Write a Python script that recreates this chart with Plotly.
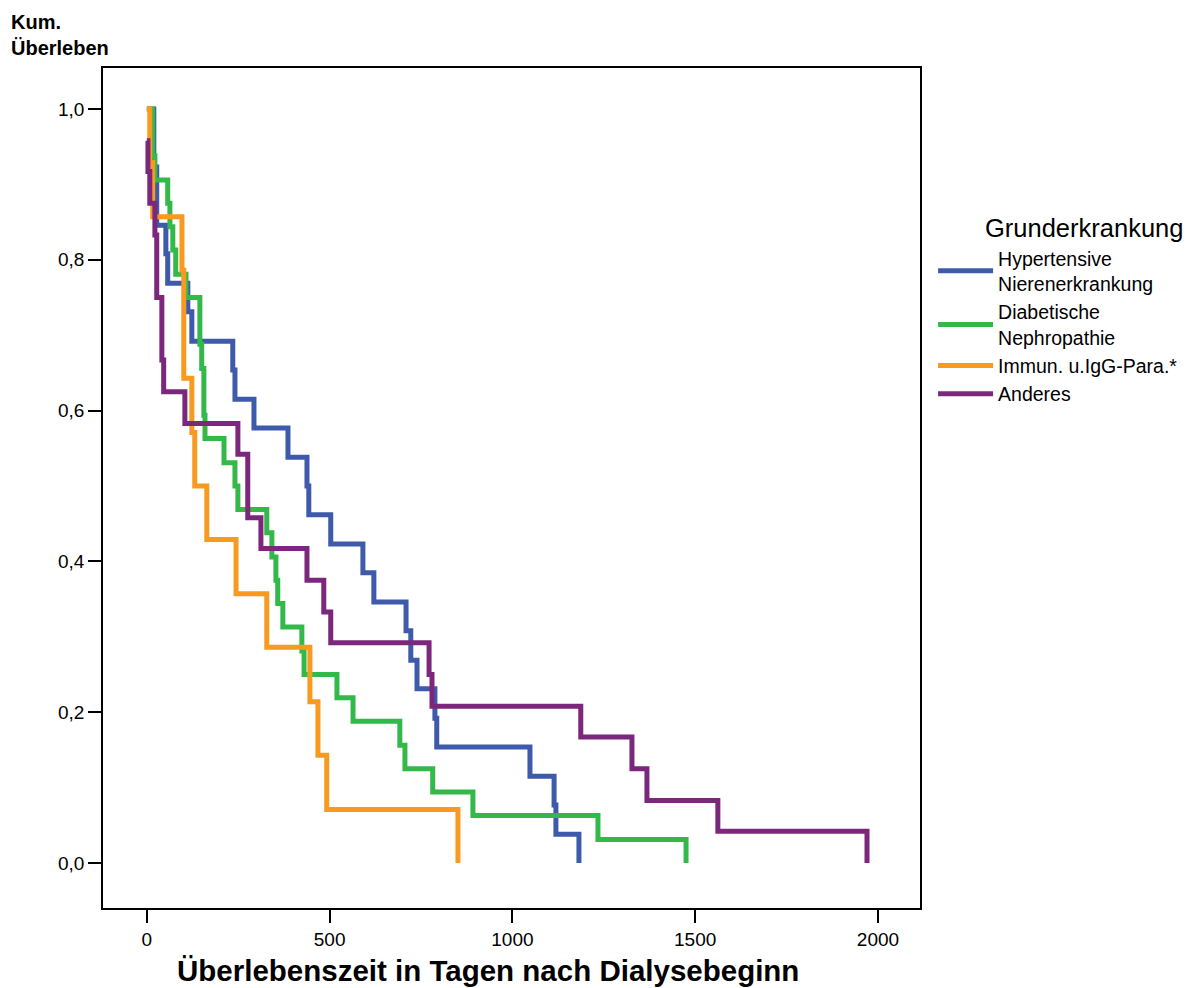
import plotly.graph_objects as go

# ---- data ----
series_names = ["Hypertensive<br>Nierenerkrankung", "Diabetische<br>Nephropathie",
                "Immun. u.IgG-Para.*", "Anderes"]
series_colors = ["#3e5bab", "#33b84a", "#f89a1f", "#7b287c"]

hyp_days = [0, 19, 27, 52, 57, 112, 123, 235, 241, 293, 386, 438, 443, 503, 591, 621,
            709, 722, 739, 788, 793, 1048, 1114, 1119, 1182]
hyp_surv = [1.0, 0.923, 0.846, 0.808, 0.769, 0.731, 0.692, 0.654, 0.615, 0.577, 0.538,
            0.500, 0.462, 0.423, 0.385, 0.346, 0.308, 0.269, 0.231, 0.192, 0.154, 0.115,
            0.077, 0.038, 0.0]

dia_days = [0, 16, 22, 57, 63, 71, 79, 107, 145, 150, 156, 159, 211, 241, 249, 328, 342,
            353, 358, 372, 424, 430, 520, 564, 692, 706, 782, 892, 1234, 1475]
dia_surv = [1.0, 0.938, 0.906, 0.875, 0.844, 0.813, 0.781, 0.750, 0.688, 0.656, 0.594,
            0.563, 0.531, 0.500, 0.469, 0.438, 0.406, 0.375, 0.344, 0.313, 0.281, 0.250,
            0.219, 0.188, 0.156, 0.125, 0.094, 0.063, 0.031, 0.0]

imm_days = [0, 8, 16, 96, 101, 123, 131, 164, 244, 328, 446, 468, 492, 851]
imm_surv = [1.0, 0.929, 0.857, 0.786, 0.643, 0.571, 0.500, 0.429, 0.357, 0.286, 0.214,
            0.143, 0.071, 0.0]

and_days = [0, 3, 8, 22, 27, 41, 46, 104, 249, 276, 312, 438, 484, 503, 772, 780, 1187,
            1327, 1368, 1562, 1970]
and_surv = [0.958, 0.917, 0.875, 0.833, 0.750, 0.667, 0.625, 0.583, 0.542, 0.458, 0.417,
            0.375, 0.333, 0.292, 0.250, 0.208, 0.167, 0.125, 0.083, 0.042, 0.0]

x_tickvals = [0, 500, 1000, 1500, 2000]
x_ticktext = ["0", "500", "1000", "1500", "2000"]
y_tickvals = [0.0, 0.2, 0.4, 0.6, 0.8, 1.0]
y_ticktext = ["0,0", "0,2", "0,4", "0,6", "0,8", "1,0"]

x_title = "Überlebenszeit in Tagen nach Dialysebeginn"
y_title = "Kum.<br>Überleben"
legend_title = "Grunderkrankung"

FONT = "Liberation Sans, Arial, Helvetica, sans-serif"

fig = go.Figure()
all_days = [hyp_days, dia_days, imm_days, and_days]
all_surv = [hyp_surv, dia_surv, imm_surv, and_surv]
for name, col, d, s in zip(series_names, series_colors, all_days, all_surv):
    fig.add_trace(go.Scatter(
        x=d, y=s, mode="lines", name=name,
        line=dict(color=col, width=5, shape="hv"),
        hoverinfo="skip",
    ))

fig.update_layout(
    width=1203, height=988,
    margin=dict(l=103, r=283, t=68, b=80),
    plot_bgcolor="white", paper_bgcolor="white",
    font=dict(family=FONT, color="black", size=19),
    showlegend=True,
    legend=dict(
        x=1.016, y=0.7965, xanchor="left", yanchor="top",
        font=dict(family=FONT, size=19.5, color="black"),
        itemwidth=55, tracegroupgap=0, bgcolor="rgba(0,0,0,0)",
    ),
    annotations=[
        dict(text=legend_title, xref="paper", yref="paper", x=1.0770, y=0.8095,
             xanchor="left", yanchor="middle", showarrow=False,
             font=dict(family=FONT, size=25.5, color="black")),
        dict(text="<b>" + y_title + "</b>", xref="paper", yref="paper", x=-0.1150, y=1.0700,
             xanchor="left", yanchor="top", showarrow=False, align="left",
             font=dict(family=FONT, size=20, color="black")),
        dict(text="<b>" + x_title + "</b>", xref="paper", yref="paper", x=0.4715, y=-0.0745,
             xanchor="center", yanchor="middle", showarrow=False,
             font=dict(family=FONT, size=29.5, color="black")),
    ],
)

fig.update_xaxes(
    range=[-120, 2115], tickvals=x_tickvals, ticktext=x_ticktext,
    showline=True, linecolor="black", linewidth=1.6, mirror=True,
    ticks="outside", ticklen=13, tickwidth=1.5, tickcolor="black",
    showgrid=False, zeroline=False,
    tickfont=dict(family=FONT, size=19, color="black"),
)
fig.update_yaxes(
    range=[-0.0597, 1.0544], tickvals=y_tickvals, ticktext=y_ticktext,
    showline=True, linecolor="black", linewidth=1.6, mirror=True,
    ticks="outside", ticklen=13, tickwidth=1.5, tickcolor="black",
    showgrid=False, zeroline=False,
    tickfont=dict(family=FONT, size=19, color="black"),
)

fig.write_html("out.html")
